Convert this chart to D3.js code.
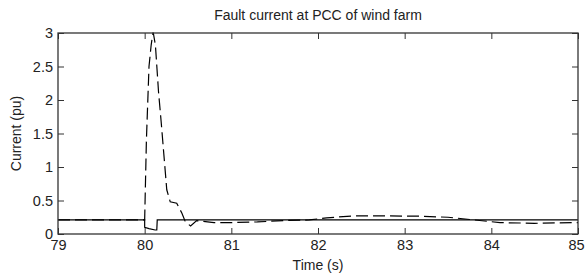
<!DOCTYPE html>
<html>
<head>
<meta charset="utf-8">
<script src="https://cdn.jsdelivr.net/npm/d3@7"></script>
<style>
  body { margin: 0; background: #fff; }
  svg { display: block; font-family: "Liberation Sans", Arial, sans-serif; }
  .tick text { fill: #222; }
</style>
</head>
<body>
<script>
(function () {
  'use strict';

  // 时间轴刻度 / 电流刻度
  const xTicks = [79, 80, 81, 82, 83, 84, 85];
  const yTicks = [0, 0.5, 1, 1.5, 2, 2.5, 3];

  // solid trace
  const solidT = [79, 80.0, 80.0, 80.05, 80.12, 80.14, 80.145, 81, 82, 83, 84, 85];
  const solidI = [0.21, 0.21, 0.1, 0.08, 0.06, 0.06, 0.21, 0.21, 0.21, 0.21, 0.21, 0.21];

  // dashed trace (fault current)
  const dashT = [79, 80.0, 80.02, 80.05, 80.075, 80.095, 80.1, 80.124, 80.16, 80.19, 80.255,
                 80.295, 80.37, 80.41, 80.43, 80.47, 80.53, 80.6, 80.8, 81.0, 81.3, 81.6,
                 81.9, 82.1, 82.4, 82.8, 83.2, 83.5, 83.8, 84.1, 84.5, 85];
  const dashI = [0.21, 0.21, 1.4, 2.5, 2.82, 3.0, 3.0, 2.82, 2.12, 1.68, 0.66,
                 0.48, 0.46, 0.36, 0.31, 0.18, 0.12, 0.2, 0.17, 0.17, 0.18, 0.2,
                 0.21, 0.24, 0.27, 0.27, 0.265, 0.25, 0.21, 0.17, 0.16, 0.17];

  const W = 585, H = 275;
  const margin = {left: 58, top: 33, right: 7, bottom: 41};
  const width = W - margin.left - margin.right;
  const height = H - margin.top - margin.bottom;

  const svg = d3.select("body").append("svg")
    .attr("width", W)
    .attr("height", H);

  const g = svg.append("g")
    .attr("transform", "translate(" + margin.left + "," + margin.top + ")");

  const x = d3.scaleLinear().domain([79, 85]).range([0, width]);
  const y = d3.scaleLinear().domain([0, 3]).range([height, 0]);

  const axisColor = "#333";

  // bottom axis
  g.append("g")
    .attr("transform", "translate(0," + height + ")")
    .call(d3.axisBottom(x).tickValues(xTicks).tickFormat(d3.format("d"))
      .tickSizeInner(-6).tickSizeOuter(0).tickPadding(6))
    .call(a => a.select(".domain").remove())
    .call(a => a.selectAll("text").attr("font-size", 14.5))
    .call(a => a.selectAll("text").filter(d => d === 85).attr("dx", -2));

  // top axis
  g.append("g")
    .call(d3.axisTop(x).tickValues(xTicks).tickFormat("")
      .tickSizeInner(-6).tickSizeOuter(0))
    .call(a => a.select(".domain").remove());

  // left axis
  g.append("g")
    .call(d3.axisLeft(y).tickValues(yTicks).tickFormat(d3.format("~g"))
      .tickSizeInner(-6).tickSizeOuter(0).tickPadding(5))
    .call(a => a.select(".domain").remove())
    .call(a => a.selectAll("text").attr("font-size", 14.5));

  // right axis
  g.append("g")
    .attr("transform", "translate(" + width + ",0)")
    .call(d3.axisRight(y).tickValues(yTicks).tickFormat("")
      .tickSizeInner(-6).tickSizeOuter(0))
    .call(a => a.select(".domain").remove());

  g.selectAll(".tick line").attr("stroke", axisColor);

  // 曲线
  const line = d3.line()
    .x(d => x(d[0]))
    .y(d => y(d[1]));

  g.append("path")
    .datum(solidT.map((t, i) => [t, solidI[i]]))
    .attr("fill", "none")
    .attr("stroke", "#000")
    .attr("stroke-width", 1.2)
    .attr("d", line);

  g.append("path")
    .datum(dashT.map((t, i) => [t, dashI[i]]))
    .attr("fill", "none")
    .attr("stroke", "#000")
    .attr("stroke-width", 1.2)
    .attr("stroke-dasharray", "12,5")
    .attr("d", line);

  // box
  g.append("rect")
    .attr("width", width)
    .attr("height", height)
    .attr("fill", "none")
    .attr("stroke", axisColor)
    .attr("stroke-width", 1.3);

  // title & labels
  svg.append("text")
    .attr("x", margin.left + width / 2)
    .attr("y", 20)
    .attr("text-anchor", "middle")
    .attr("font-size", 14)
    .attr("fill", "#222")
    .text("Fault current at PCC of wind farm");

  svg.append("text")
    .attr("x", margin.left + width / 2)
    .attr("y", 270)
    .attr("text-anchor", "middle")
    .attr("font-size", 14)
    .attr("fill", "#222")
    .text("Time (s)");

  svg.append("text")
    .attr("transform", "translate(21," + (margin.top + height / 2) + ") rotate(-90)")
    .attr("text-anchor", "middle")
    .attr("font-size", 14)
    .attr("fill", "#222")
    .text("Current (pu)");
})();
</script>
</body>
</html>
